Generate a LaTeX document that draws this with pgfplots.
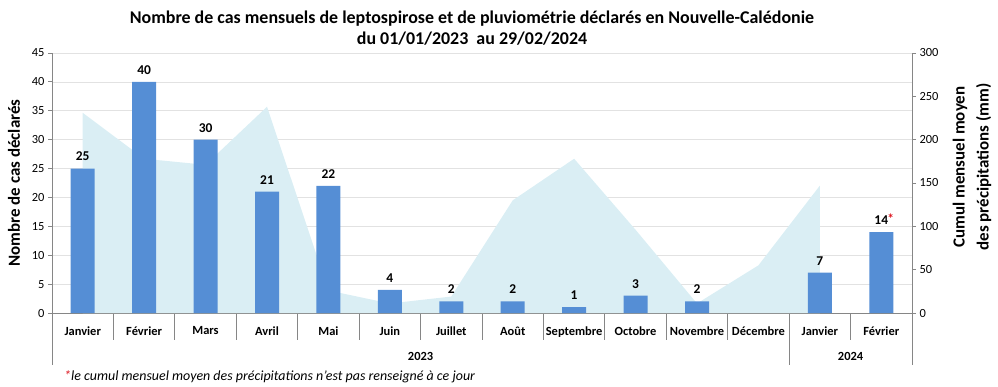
\documentclass[border=0pt]{standalone}
\usepackage{pgfplots}
\pgfplotsset{compat=1.18}
\usepackage{fontspec}
\setmainfont{Carlito}
\definecolor{barblue}{RGB}{85,142,213}
\definecolor{rainblue}{RGB}{218,238,244}
\definecolor{axgray}{RGB}{134,134,134}
\definecolor{gridgray}{RGB}{226,226,226}
\definecolor{starred}{RGB}{220,20,30}
\begin{document}
\begin{tikzpicture}[x=1bp,y=1bp]
\useasboundingbox (0,0) rectangle (998,386);
\pgfplotsset{
  base/.style={
    at={(52bp,73bp)}, anchor=south west,
    width=860bp, height=260bp, scale only axis,
    xmin=-0.5, xmax=13.5,
    /pgf/number format/assume math mode=true,
    tick label style={font=\fontsize{12.5}{14}\selectfont, color=black},
  }
}
% Axis 1: left scale, grid, x labels
\begin{axis}[base,
  ymin=0, ymax=45, ytick={0,5,...,45},
  ymajorgrids, grid style={gridgray, line width=0.6bp},
  axis x line*=bottom, axis y line*=left,
  axis line style={axgray, line width=0.8bp},
  y tick style={axgray, line width=0.8bp}, tick align=outside,
  major tick length=4bp,
  xtick={0,...,13}, x tick style={draw=none},
  xticklabels={Janvier,Février,Mars,Avril,Mai,Juin,Juillet,Août,Septembre,Octobre,Novembre,Décembre,Janvier,Février},
  x tick label style={font=\bfseries\fontsize{12.5}{14}\selectfont, yshift=-6bp},
  clip=false,
]
\addplot[draw=none] coordinates {(0,0)};
\pgfplotsinvokeforeach{0.5,1.5,...,10.5,12.5}{
  \draw[axgray, line width=0.8bp] (axis cs:#1,0) -- ([yshift=-27bp]axis cs:#1,0);
}
\pgfplotsinvokeforeach{-0.5,11.5,13.5}{
  \draw[axgray, line width=0.8bp] (axis cs:#1,0) -- ([yshift=-52bp]axis cs:#1,0);
}
\node[font=\bfseries\fontsize{12.5}{14}\selectfont] at ([yshift=-43bp]axis cs:5.5,0) {2023};
\node[font=\bfseries\fontsize{12.5}{14}\selectfont] at ([yshift=-43bp]axis cs:12.5,0) {2024};
\end{axis}
% Axis 2: right scale, rainfall area
\begin{axis}[base,
  ymin=0, ymax=300, ytick={0,50,...,300},
  axis x line=none, axis y line*=right,
  axis line style={axgray, line width=0.8bp},
  y tick style={axgray, line width=0.8bp}, tick align=outside,
  major tick length=4bp,
]
\addplot[fill=rainblue, draw=none] coordinates {
  (0,0) (0,231) (1,178) (2,171) (3,238) (4,26) (5,11) (6,19)
  (7,130) (8,178) (9,96) (10,11) (11,55) (12,147) (12,0)
} \closedcycle;
\end{axis}
% Axis 3: bars
\begin{axis}[base,
  ymin=0, ymax=45, hide axis,
  clip=false,
]
\addplot[ybar, bar width=24bp, fill=barblue, draw=none,
  nodes near coords,
  every node near coord/.append style={font=\bfseries\fontsize{13.5}{15}\selectfont, color=black, yshift=4bp},
] coordinates {
  (0,25) (1,40) (2,30) (3,21) (4,22) (5,4) (6,2) (7,2) (8,1) (9,3) (10,2) (12,7) (13,14)
};
\node[font=\bfseries\fontsize{13.5}{15}\selectfont, color=starred] at ([xshift=9.5bp, yshift=13bp]axis cs:13,14) {*};
\end{axis}
% Axis labels
\node[rotate=90, font=\bfseries\fontsize{17}{20}\selectfont] at (14,203) {Nombre de cas déclarés};
\node[rotate=90, font=\bfseries\fontsize{17}{24}\selectfont, align=center] at (972,219) {Cumul mensuel moyen\\des précipitations (mm)};
% Title
\node[font=\bfseries\fontsize{18}{21}\selectfont, align=center] at (472,358) {Nombre de cas mensuels de leptospirose et de pluviométrie déclarés en Nouvelle-Calédonie\\du 01/01/2023\ \ au 29/02/2024};
% Footnote
\node[anchor=west, font=\itshape\fontsize{14}{16}\selectfont, inner sep=0pt] at (64,9) {\textcolor{starred}{*}le cumul mensuel moyen des précipitations n'est pas renseigné à ce jour};
\end{tikzpicture}
\end{document}
